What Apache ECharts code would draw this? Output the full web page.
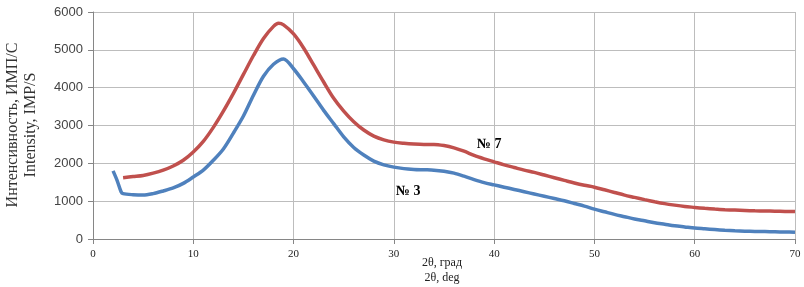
<!DOCTYPE html>
<html>
<head>
<meta charset="utf-8">
<script src="https://cdn.jsdelivr.net/npm/echarts@6/dist/echarts.min.js"></script>
<style>
  html, body { margin: 0; padding: 0; background: #fff; }
  #chart { width: 804px; height: 287px; }
</style>
</head>
<body>
<div id="chart"></div>
<script>
// 2θ, deg
const angle7 = [3, 4, 5, 6, 7, 8, 9, 10, 11, 12, 13, 14, 15, 16, 17, 18, 18.5, 19, 20, 21, 22, 23, 24, 25, 26, 27, 28, 29, 30, 31, 32, 33, 34, 35, 36, 37, 38, 39, 40, 41, 42, 43, 44, 45, 46, 47, 48, 49, 50, 51, 52, 53, 54, 55, 56, 57, 58, 59, 60, 61, 62, 63, 64, 65, 66, 67, 68, 69, 70];
const sample7 = [1620, 1650, 1680, 1740, 1820, 1930, 2080, 2300, 2580, 2950, 3380, 3850, 4350, 4850, 5300, 5620, 5700, 5660, 5420, 5050, 4600, 4150, 3720, 3380, 3100, 2880, 2720, 2620, 2560, 2530, 2510, 2500, 2500, 2470, 2410, 2320, 2210, 2120, 2040, 1960, 1890, 1820, 1760, 1690, 1620, 1550, 1480, 1420, 1370, 1300, 1230, 1160, 1100, 1040, 985, 935, 895, 860, 835, 810, 790, 775, 765, 755, 745, 740, 735, 730, 725];

const angle3 = [2, 2.4, 2.8, 3, 4, 5, 6, 7, 8, 9, 10, 11, 12, 13, 14, 15, 16, 17, 18, 19, 20, 21, 22, 23, 24, 25, 26, 27, 28, 29, 30, 31, 32, 33, 34, 35, 36, 37, 38, 39, 40, 41, 42, 43, 44, 45, 46, 47, 48, 49, 50, 51, 52, 53, 54, 55, 56, 57, 58, 59, 60, 61, 62, 63, 64, 65, 66, 67, 68, 69, 70];
const sample3 = [1800, 1550, 1250, 1200, 1170, 1160, 1200, 1270, 1350, 1470, 1640, 1820, 2080, 2380, 2800, 3250, 3800, 4300, 4620, 4760, 4500, 4150, 3780, 3400, 3050, 2700, 2420, 2220, 2060, 1960, 1900, 1860, 1840, 1830, 1820, 1790, 1740, 1660, 1570, 1490, 1430, 1370, 1310, 1250, 1190, 1130, 1070, 1010, 940, 870, 790, 720, 650, 590, 530, 480, 430, 390, 350, 320, 290, 270, 250, 230, 215, 205, 200, 195, 190, 185, 180];

const xTicks = [0, 10, 20, 30, 40, 50, 60, 70];
const yTicks = [0, 1000, 2000, 3000, 4000, 5000, 6000];

const chart = echarts.init(document.getElementById('chart'));

const pairs = (xs, ys) => xs.map((x, i) => [x, ys[i]]);

const serif = '"Liberation Serif", "Times New Roman", serif';

const option = {
  animation: false,
  grid: { left: 93, right: 9, top: 12, bottom: 48, outerBoundsMode: 'none', containLabel: false },
  xAxis: {
    type: 'value',
    min: xTicks[0],
    max: xTicks[xTicks.length - 1],
    interval: 10,
    axisLine: { lineStyle: { color: '#868686' } },
    axisTick: { show: true, length: 5, lineStyle: { color: '#868686' } },
    axisLabel: { fontFamily: serif, fontSize: 11, color: '#222', margin: 10 },
    splitLine: { show: true, lineStyle: { color: '#bdbdbd', width: 1 } }
  },
  yAxis: {
    type: 'value',
    min: yTicks[0],
    max: yTicks[yTicks.length - 1],
    interval: 1000,
    axisLine: { show: true, lineStyle: { color: '#868686' } },
    axisTick: { show: true, length: 5, lineStyle: { color: '#868686' } },
    axisLabel: { fontFamily: 'Liberation Sans', fontSize: 13, color: '#444', margin: 10, formatter: v => String(v) },
    splitLine: { show: true, lineStyle: { color: '#bdbdbd', width: 1 } }
  },
  series: [
    {
      name: '№ 7',
      type: 'line',
      data: pairs(angle7, sample7),
      showSymbol: false,
      smooth: 0.3,
      lineStyle: { color: '#c0504d', width: 3.5 }
    },
    {
      name: '№ 3',
      type: 'line',
      data: pairs(angle3, sample3),
      showSymbol: false,
      smooth: 0.3,
      lineStyle: { color: '#4f81bd', width: 3.5 }
    }
  ],
  graphic: [
    // подписи осей
    { type: 'text', x: 13, y: 125, rotation: Math.PI / 2,
      style: { text: 'Интенсивность, ИМП/С', font: '16px ' + serif, fill: '#333', textAlign: 'center', textVerticalAlign: 'middle' } },
    { type: 'text', x: 31, y: 125, rotation: Math.PI / 2,
      style: { text: 'Intensity, IMP/S', font: '16px ' + serif, fill: '#333', textAlign: 'center', textVerticalAlign: 'middle' } },
    { type: 'text', x: 442, y: 263,
      style: { text: '2θ, град', font: '12px ' + serif, fill: '#222', textAlign: 'center', textVerticalAlign: 'middle' } },
    { type: 'text', x: 442, y: 278,
      style: { text: '2θ, deg', font: '12px ' + serif, fill: '#222', textAlign: 'center', textVerticalAlign: 'middle' } },
    // номера образцов
    { type: 'text', left: 477, top: 137, style: { text: '№ 7', font: 'bold 14px ' + serif, fill: '#000' } },
    { type: 'text', left: 396, top: 184, style: { text: '№ 3', font: 'bold 14px ' + serif, fill: '#000' } }
  ]
};

chart.setOption(option);
</script>
</body>
</html>
